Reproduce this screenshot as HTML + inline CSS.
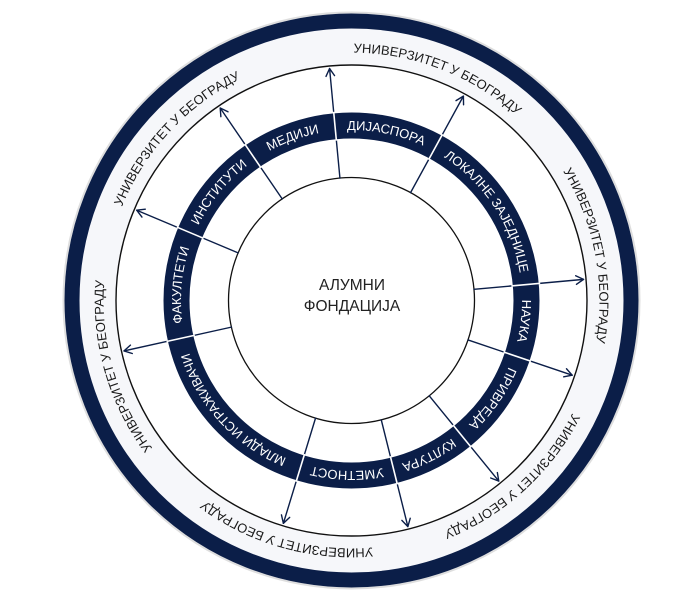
<!DOCTYPE html>
<html>
<head>
<meta charset="utf-8">
<style>
  html, body { margin: 0; padding: 0; background: #ffffff; }
  body { width: 691px; height: 614px; overflow: hidden; }
  svg { display: block; }
  .band { font-family: "Liberation Sans", "DejaVu Sans", sans-serif; font-size: 13px; fill: #ffffff; }
  .outer { font-family: "Liberation Sans", "DejaVu Sans", sans-serif; font-size: 13px; fill: #1a1a1a; }
  .center { font-family: "Liberation Sans", "DejaVu Sans", sans-serif; font-size: 15.5px; fill: #222222; }
</style>
</head>
<body>
<svg width="691" height="614" viewBox="0 0 691 614" xmlns="http://www.w3.org/2000/svg">
  <defs>
    <path id="bandArc" d="M 181,300.5 A 170.5 170.5 0 0 1 522,300.5"/>
    <path id="outerArc" d="M 103.5,300.5 A 248 248 0 0 1 599.5,300.5"/>
  </defs>

  <!-- outer shadow -->
  <circle cx="351.5" cy="300.5" r="288" fill="none" stroke="#c8c8c8" stroke-width="2" opacity="0.6"/>
  <!-- light band fill -->
  <circle cx="351.5" cy="300.5" r="273" fill="#f6f7fa"/>
  <!-- dark outer ring -->
  <circle cx="351.5" cy="300.5" r="279.5" fill="none" stroke="#0b1e48" stroke-width="15"/>
  <!-- white circle with black stroke -->
  <circle cx="351.5" cy="300.5" r="235.5" fill="#ffffff" stroke="#111111" stroke-width="1.4"/>
  <!-- inner dark band -->
  <circle cx="351.5" cy="300.5" r="175" fill="none" stroke="#0b1e48" stroke-width="26"/>
  <!-- inner circle -->
  <circle cx="351.5" cy="300.5" r="123" fill="#ffffff" stroke="#111111" stroke-width="1.3"/>

  <!-- arrows -->
  <g stroke-linecap="round" stroke-linejoin="round" fill="none">
    <g transform="rotate(-95.4 351.5 300.5)">
      <line x1="474.5" y1="300.5" x2="584.5" y2="300.5" stroke="#0b1e48" stroke-width="1.4"/>
      <polyline points="577,296.2 584.5,300.5 577,304.8" stroke="#0b1e48" stroke-width="1.4"/>
      <line x1="512" y1="300.5" x2="541" y2="300.5" stroke="#ffffff" stroke-width="1.6" stroke-linecap="butt"/>
    </g>
    <g transform="rotate(-124.3 351.5 300.5)">
      <line x1="474.5" y1="300.5" x2="584.5" y2="300.5" stroke="#0b1e48" stroke-width="1.4"/>
      <polyline points="577,296.2 584.5,300.5 577,304.8" stroke="#0b1e48" stroke-width="1.4"/>
      <line x1="512" y1="300.5" x2="541" y2="300.5" stroke="#ffffff" stroke-width="1.6" stroke-linecap="butt"/>
    </g>
    <g transform="rotate(-157.2 351.5 300.5)">
      <line x1="474.5" y1="300.5" x2="584.5" y2="300.5" stroke="#0b1e48" stroke-width="1.4"/>
      <polyline points="577,296.2 584.5,300.5 577,304.8" stroke="#0b1e48" stroke-width="1.4"/>
      <line x1="512" y1="300.5" x2="541" y2="300.5" stroke="#ffffff" stroke-width="1.6" stroke-linecap="butt"/>
    </g>
    <g transform="rotate(-192.5 351.5 300.5)">
      <line x1="474.5" y1="300.5" x2="584.5" y2="300.5" stroke="#0b1e48" stroke-width="1.4"/>
      <polyline points="577,296.2 584.5,300.5 577,304.8" stroke="#0b1e48" stroke-width="1.4"/>
      <line x1="512" y1="300.5" x2="541" y2="300.5" stroke="#ffffff" stroke-width="1.6" stroke-linecap="butt"/>
    </g>
    <g transform="rotate(-253 351.5 300.5)">
      <line x1="474.5" y1="300.5" x2="584.5" y2="300.5" stroke="#0b1e48" stroke-width="1.4"/>
      <polyline points="577,296.2 584.5,300.5 577,304.8" stroke="#0b1e48" stroke-width="1.4"/>
      <line x1="512" y1="300.5" x2="541" y2="300.5" stroke="#ffffff" stroke-width="1.6" stroke-linecap="butt"/>
    </g>
    <g transform="rotate(-284 351.5 300.5)">
      <line x1="474.5" y1="300.5" x2="584.5" y2="300.5" stroke="#0b1e48" stroke-width="1.4"/>
      <polyline points="577,296.2 584.5,300.5 577,304.8" stroke="#0b1e48" stroke-width="1.4"/>
      <line x1="512" y1="300.5" x2="541" y2="300.5" stroke="#ffffff" stroke-width="1.6" stroke-linecap="butt"/>
    </g>
    <g transform="rotate(-309.2 351.5 300.5)">
      <line x1="474.5" y1="300.5" x2="584.5" y2="300.5" stroke="#0b1e48" stroke-width="1.4"/>
      <polyline points="577,296.2 584.5,300.5 577,304.8" stroke="#0b1e48" stroke-width="1.4"/>
      <line x1="512" y1="300.5" x2="541" y2="300.5" stroke="#ffffff" stroke-width="1.6" stroke-linecap="butt"/>
    </g>
    <g transform="rotate(-341.3 351.5 300.5)">
      <line x1="474.5" y1="300.5" x2="584.5" y2="300.5" stroke="#0b1e48" stroke-width="1.4"/>
      <polyline points="577,296.2 584.5,300.5 577,304.8" stroke="#0b1e48" stroke-width="1.4"/>
      <line x1="512" y1="300.5" x2="541" y2="300.5" stroke="#ffffff" stroke-width="1.6" stroke-linecap="butt"/>
    </g>
    <g transform="rotate(-5.2 351.5 300.5)">
      <line x1="474.5" y1="300.5" x2="584.5" y2="300.5" stroke="#0b1e48" stroke-width="1.4"/>
      <polyline points="577,296.2 584.5,300.5 577,304.8" stroke="#0b1e48" stroke-width="1.4"/>
      <line x1="512" y1="300.5" x2="541" y2="300.5" stroke="#ffffff" stroke-width="1.6" stroke-linecap="butt"/>
    </g>
    <g transform="rotate(-61.3 351.5 300.5)">
      <line x1="474.5" y1="300.5" x2="584.5" y2="300.5" stroke="#0b1e48" stroke-width="1.4"/>
      <polyline points="577,296.2 584.5,300.5 577,304.8" stroke="#0b1e48" stroke-width="1.4"/>
      <line x1="512" y1="300.5" x2="541" y2="300.5" stroke="#ffffff" stroke-width="1.6" stroke-linecap="butt"/>
    </g>
  </g>

  <!-- band labels -->
  <g transform="rotate(11.65 351.5 300.5)"><text class="band"><textPath href="#bandArc" startOffset="50%" text-anchor="middle">ДИЈАСПОРА</textPath></text></g>
  <g transform="rotate(-19.85 351.5 300.5)"><text class="band"><textPath href="#bandArc" startOffset="50%" text-anchor="middle">МЕДИЈИ</textPath></text></g>
  <g transform="rotate(-50.75 351.5 300.5)"><text class="band"><textPath href="#bandArc" startOffset="50%" text-anchor="middle">ИНСТИТУТИ</textPath></text></g>
  <g transform="rotate(-84.85 351.5 300.5)"><text class="band"><textPath href="#bandArc" startOffset="50%" text-anchor="middle">ФАКУЛТЕТИ</textPath></text></g>
  <g transform="rotate(-132.75 351.5 300.5)"><text class="band"><textPath href="#bandArc" startOffset="50%" text-anchor="middle">МЛАДИ ИСТРАЖИВАЧИ</textPath></text></g>
  <g transform="rotate(-178.5 351.5 300.5)"><text class="band"><textPath href="#bandArc" startOffset="50%" text-anchor="middle">УМЕТНОСТ</textPath></text></g>
  <g transform="rotate(-206.6 351.5 300.5)"><text class="band"><textPath href="#bandArc" startOffset="50%" text-anchor="middle">КУЛТУРА</textPath></text></g>
  <g transform="rotate(-235.25 351.5 300.5)"><text class="band"><textPath href="#bandArc" startOffset="50%" text-anchor="middle">ПРИВРЕДА</textPath></text></g>
  <g transform="rotate(-263.25 351.5 300.5)"><text class="band"><textPath href="#bandArc" startOffset="50%" text-anchor="middle">НАУКА</textPath></text></g>
  <g transform="rotate(56.75 351.5 300.5)"><text class="band"><textPath href="#bandArc" startOffset="50%" text-anchor="middle">ЛОКАЛНЕ ЗАЈЕДНИЦЕ</textPath></text></g>

  <!-- outer labels -->
  <g transform="rotate(21.1 351.5 300.5)"><text class="outer"><textPath href="#outerArc" startOffset="50%" text-anchor="middle">УНИВЕРЗИТЕТ У БЕОГРАДУ</textPath></text></g>
  <g transform="rotate(79.15 351.5 300.5)"><text class="outer"><textPath href="#outerArc" startOffset="50%" text-anchor="middle">УНИВЕРЗИТЕТ У БЕОГРАДУ</textPath></text></g>
  <g transform="rotate(137.6 351.5 300.5)"><text class="outer"><textPath href="#outerArc" startOffset="50%" text-anchor="middle">УНИВЕРЗИТЕТ У БЕОГРАДУ</textPath></text></g>
  <g transform="rotate(-164.3 351.5 300.5)"><text class="outer"><textPath href="#outerArc" startOffset="50%" text-anchor="middle">УНИВЕРЗИТЕТ У БЕОГРАДУ</textPath></text></g>
  <g transform="rotate(-106 351.5 300.5)"><text class="outer"><textPath href="#outerArc" startOffset="50%" text-anchor="middle">УНИВЕРЗИТЕТ У БЕОГРАДУ</textPath></text></g>
  <g transform="rotate(-47.2 351.5 300.5)"><text class="outer"><textPath href="#outerArc" startOffset="50%" text-anchor="middle">УНИВЕРЗИТЕТ У БЕОГРАДУ</textPath></text></g>

  <!-- center -->
  <text class="center" x="352" y="290" text-anchor="middle">АЛУМНИ</text>
  <text class="center" x="352" y="311" text-anchor="middle">ФОНДАЦИЈА</text>
</svg>
</body>
</html>
